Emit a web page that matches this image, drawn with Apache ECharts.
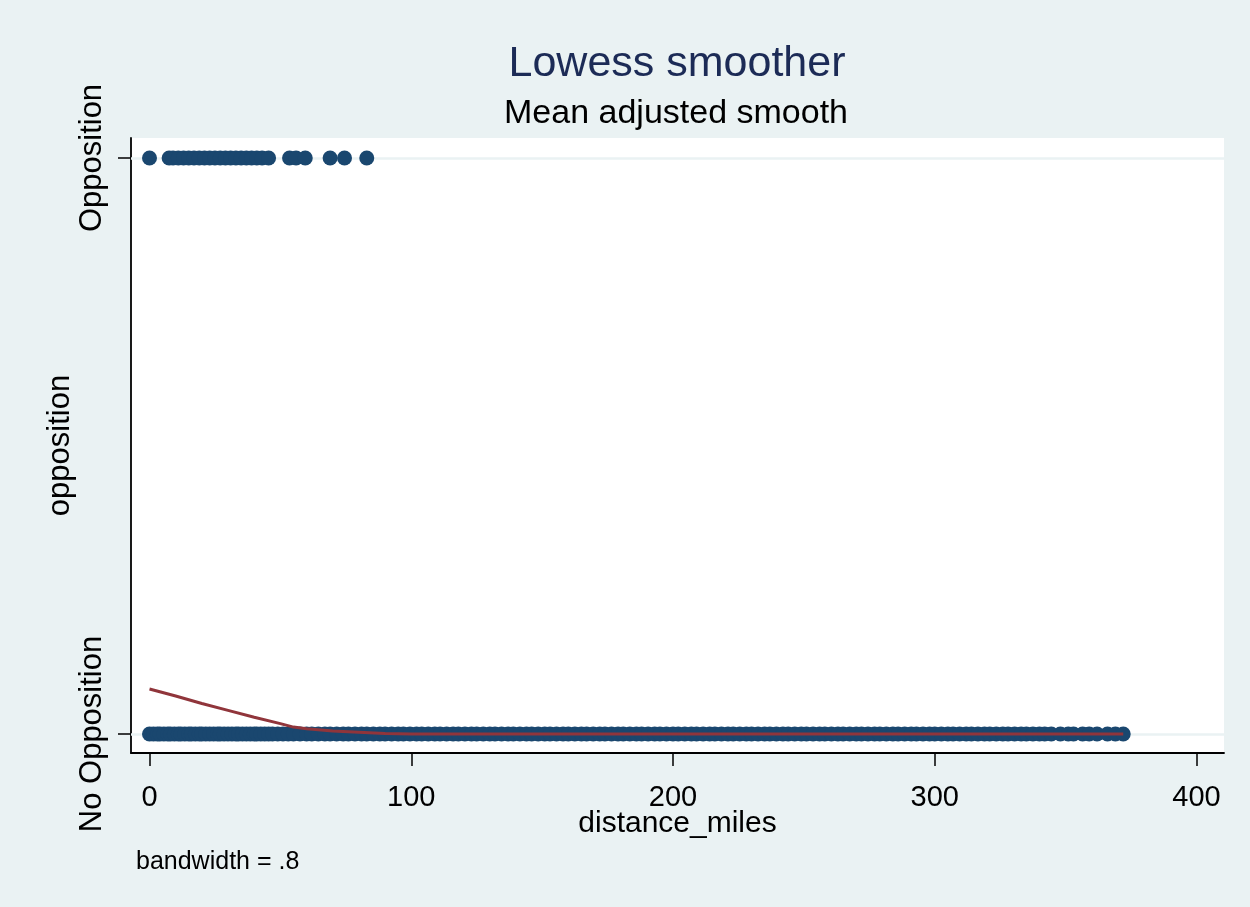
<!DOCTYPE html>
<html>
<head>
<meta charset="utf-8">
<script src="https://cdn.jsdelivr.net/npm/echarts@6/dist/echarts.min.js"></script>
<style>
  html, body { margin: 0; padding: 0; background: #EAF2F3; }
  #chart { width: 1250px; height: 907px; }
</style>
</head>
<body>
<div id="chart"></div>
<script>
// ---- data ----
const titleText = 'Lowess smoother';
const subtitleText = 'Mean adjusted smooth';
const noteText = 'bandwidth = .8';
const xAxisName = 'distance_miles';
const yAxisName = 'opposition';
const xTicks = [0, 100, 200, 300, 400];
const yTicks = [0, 1];
const yTickLabels = ['No Opposition', 'Opposition'];

// distance_miles of observations with opposition = 1
const oppositionX = [0, 7.5, 9, 11, 13, 15, 17, 19, 21, 23, 25, 27, 29, 31, 33, 35, 37, 39, 41, 43, 45.5,
  53.5, 56, 59.5, 69, 74.5, 83];

// distance_miles of observations with opposition = 0
const noOppositionX = [0, 1.5, 3, 4, 5.5, 7, 8, 9.5, 11, 12, 13.5, 15, 16, 17.5, 19, 20, 21.5, 23, 24.5, 26,
  27, 28.5, 30, 31.5, 33, 34, 35.5, 37, 38.5, 40, 41, 42.5, 44, 45.5, 47, 49, 51, 53, 55, 57.5, 60, 62,
  64.5, 67, 69, 71.5, 74, 76, 78.5, 81, 83, 85.5, 88, 90, 92.5, 95, 97, 99.5, 102, 104, 106.5, 109, 111,
  113.5, 116, 118, 120.5, 123, 125, 127.5, 130, 132, 134.5, 137, 139, 141.5, 144, 146, 148.5, 151, 153,
  155.5, 158, 160, 162.5, 165, 167, 169.5, 172, 174, 176.5, 179, 181, 183.5, 186, 188, 190.5, 193, 195,
  197.5, 200, 202, 204.5, 207, 209, 211.5, 214, 216, 218.5, 221, 223, 225.5, 228, 230, 232.5, 235, 237,
  239.5, 242, 244, 246.5, 249, 251, 253.5, 256, 258, 260.5, 263, 265, 267.5, 270, 272, 274.5, 277, 279,
  281.5, 284, 286, 288.5, 291, 293, 295.5, 298, 300, 302.5, 305, 307, 309.5, 312, 314, 316.5, 319, 321,
  323.5, 326, 328, 330.5, 333, 335, 337.5, 340, 342, 344.5, 348, 351, 353, 356.5, 359, 362, 366, 369, 372];

// lowess smooth
const lowessX = [0, 10, 20, 30, 40, 50, 55, 60, 70, 80, 90, 100, 150, 200, 250, 300, 350, 372];
const lowessY = [0.078, 0.066, 0.053, 0.041, 0.029, 0.018, 0.012, 0.009, 0.005, 0.003, 0.001, 0, 0, 0, 0, 0, 0, 0];

// ---- chart ----
const FONT = 'Liberation Sans, Arial, sans-serif';
const chart = echarts.init(document.getElementById('chart'), null, { renderer: 'canvas' });

const scatterData = oppositionX.map(x => [x, 1]).concat(noOppositionX.map(x => [x, 0]));
const lineData = lowessX.map((x, i) => [x, lowessY[i]]);

chart.setOption({
  backgroundColor: '#EAF2F3',
  animation: false,
  grid: { left: 131, right: 26, top: 138, bottom: 154, show: true, backgroundColor: '#ffffff', borderWidth: 0 },
  xAxis: {
    type: 'value',
    min: -7.07, max: 410.5,
    name: xAxisName, nameLocation: 'middle', nameGap: 56, nameMoveOverlap: false,
    nameTextStyle: { fontFamily: FONT, fontSize: 30, color: '#000' },
    axisLine: { onZero: false, lineStyle: { color: '#000', width: 1.8 } },
    axisTick: { show: true, inside: false, customValues: xTicks, length: 13, lineStyle: { color: '#000', width: 1.5 } },
    axisLabel: { customValues: xTicks, margin: 30, fontFamily: FONT, fontSize: 29, color: '#000' },
    splitLine: { show: false }
  },
  yAxis: {
    type: 'value',
    min: -0.033, max: 1.0347,
    name: yAxisName, nameLocation: 'middle', nameGap: 55, nameMoveOverlap: false,
    nameTextStyle: { fontFamily: FONT, fontSize: 31, color: '#000' },
    axisLine: { show: true, onZero: false, lineStyle: { color: '#000', width: 1.8 } },
    axisTick: { show: true, inside: false, customValues: yTicks, length: 13, lineStyle: { color: '#000', width: 1.5 } },
    axisLabel: {
      customValues: yTicks, rotate: 90, margin: 23, fontFamily: FONT, fontSize: 31, color: '#000',
      formatter: v => yTickLabels[yTicks.indexOf(Math.round(v))] || ''
    },
    splitLine: { show: false }
  },
  series: [
    {
      type: 'scatter',
      data: scatterData,
      symbol: 'circle',
      symbolSize: 15,
      itemStyle: { color: '#1a476f', opacity: 1 },
      z: 3,
      markLine: {
        silent: true, symbol: 'none', label: { show: false },
        lineStyle: { color: '#EAF2F3', width: 2.5, type: 'solid' },
        data: yTicks.map(v => ({ yAxis: v })),
        z: 1
      }
    },
    {
      type: 'line',
      data: lineData,
      showSymbol: false,
      symbol: 'none',
      smooth: false,
      lineStyle: { color: '#90353b', width: 3 },
      z: 4
    }
  ],
  graphic: [
    { type: 'text', x: 677, y: 64, style: { text: titleText, font: '43px ' + FONT, fill: '#1c2b56', textAlign: 'center', textVerticalAlign: 'middle' } },
    { type: 'text', x: 676, y: 114, style: { text: subtitleText, font: '34px ' + FONT, fill: '#000', textAlign: 'center', textVerticalAlign: 'middle' } },
    { type: 'text', x: 136, y: 862, style: { text: noteText, font: '25px ' + FONT, fill: '#000', textAlign: 'left', textVerticalAlign: 'middle' } }
  ]
});
</script>
</body>
</html>
